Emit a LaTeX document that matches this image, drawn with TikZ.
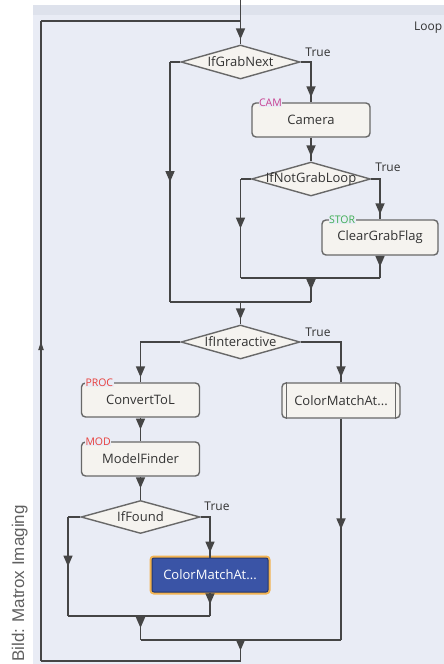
\documentclass[tikz,border=0pt]{standalone}
\usepackage{fontspec}
\setmainfont{Open Sans}
\newfontfamily\creditfont{Liberation Sans}
\usetikzlibrary{shapes.geometric,arrows.meta,decorations.markings}
\definecolor{panel}{HTML}{E9ECF5}
\definecolor{strip}{HTML}{DEE2EC}
\definecolor{linec}{HTML}{454545}
\definecolor{boxfill}{HTML}{F5F3EF}
\definecolor{boxline}{HTML}{686868}
\definecolor{blueb}{HTML}{3A54A6}
\definecolor{glow}{HTML}{F2B352}
\definecolor{tagmag}{HTML}{C8408F}
\definecolor{taggreen}{HTML}{3FAE55}
\definecolor{tagred}{HTML}{E8403C}
\definecolor{textc}{HTML}{333333}
\begin{document}
\begin{tikzpicture}[x=1pt,y=-1pt,
 conn/.style={draw=linec,line width=1.7pt},
 midarr/.style={conn,postaction={decorate},decoration={markings,mark=at position 0.5 with {\arrow[linec]{Triangle[width=9pt,length=11pt]}}}},
 endarr/.style={conn,postaction={decorate},decoration={markings,mark=at position -5pt with {\arrow[linec]{Triangle[width=9pt,length=11pt]}}}},
 uparr/.style={conn,postaction={decorate},decoration={markings,mark=at position 0.5 with {\arrow[linec]{Triangle[width=5pt,length=9pt]}}}},
 stepbox/.style={draw=boxline,fill=boxfill,line width=1.4pt,rounded corners=4pt,minimum width=118pt,minimum height=34pt,inner sep=0pt,font=\fontsize{13}{15}\selectfont,text=textc},
 decision/.style={diamond,draw=boxline,fill=boxfill,line width=1.4pt,minimum width=119pt,minimum height=34pt,inner sep=0pt,font=\fontsize{13}{15}\selectfont,text=textc},
 tagtxt/.style={fill=panel,inner sep=0.5pt,anchor=west,font=\fontsize{10.5}{12}\selectfont},
 truelbl/.style={font=\fontsize{12}{14}\selectfont,text=textc,inner sep=0pt},
]
\useasboundingbox (0,0) rectangle (444,664);
% panel
\fill[panel] (33,5) rectangle (444,664);
\fill[strip] (33,5) rectangle (444,15);

% nodes
\node[decision] (gn) at (240.5,62) {\makebox[0pt]{IfGrabNext}};
\node[stepbox] (cam) at (311,120) {Camera};
\node[decision] (ngl) at (311,179) {\makebox[0pt]{IfNotGrabLoop}};
\node[stepbox,minimum width=116pt,minimum height=35pt] (cgf) at (380,237.5) {ClearGrabFlag};
\node[decision] (ia) at (240.5,342) {\makebox[0pt]{IfInteractive}};
\node[stepbox] (ctl) at (140.5,400) {ConvertToL};
\node[stepbox,minimum height=35pt] (cma) at (341,400.5) {ColorMatchAt...};
\node[stepbox] (mf) at (140.5,459) {ModelFinder};
\node[decision,minimum height=33pt] (fd) at (140.5,517) {\makebox[0pt]{IfFound}};
\node[stepbox,minimum width=116pt,fill=blueb,draw=blueb!65!black,line width=1pt,rounded corners=2pt,text=white,preaction={draw=glow,line width=5pt}] (cmb) at (210,575) {ColorMatchAt...};

% subprocess bars
\draw[boxline,line width=1.4pt] ([xshift=5pt]cma.north west) -- ([xshift=5pt]cma.south west);
\draw[boxline,line width=1.4pt] ([xshift=-5pt]cma.north east) -- ([xshift=-5pt]cma.south east);

% tags
\node[tagtxt,text=tagmag] (tcam) at ([xshift=7pt]cam.north west) {CAM};
\node[tagtxt,text=taggreen] (tcgf) at ([xshift=7pt]cgf.north west) {STOR};
\node[tagtxt,text=tagred] (tctl) at ([xshift=4pt]ctl.north west) {PROC};
\node[tagtxt,text=tagred] (tmf) at ([xshift=4pt]mf.north west) {MOD};

% labels
\node[truelbl] (t1) at (318,52) {True};
\node[truelbl] (t2) at (388,167) {True};
\node[truelbl] (t3) at (318,332) {True};
\node[truelbl] (t4) at (217,506) {True};
\node[anchor=west,font=\fontsize{12}{14}\selectfont,text=textc,inner sep=0pt] (looplbl) at (414,28) {Loop};
\node[rotate=90,anchor=base west,font=\creditfont\fontsize{17}{20}\selectfont,text=gray!75!black,inner sep=0pt] (credit) at (24,662) {Bild: Matrox Imaging};

% coordinates
\coordinate (top) at (240.5,0);
\coordinate (lpT) at (240.5,21);
\coordinate (lpTL) at (41,21);
\coordinate (lpBL) at (41,661);
\coordinate (lpB) at (240.5,661);
\coordinate (gnL) at (170,62);
\coordinate (gnLb) at (170,302);
\coordinate (ngLc) at (240.5,179);
\coordinate (ngLb) at (240.5,278);
\coordinate (cgfB) at (380,278);
\coordinate (j1) at (311,278);
\coordinate (j1b) at (311,302);
\coordinate (j2) at (240.5,302);
\coordinate (fdL) at (68,517);
\coordinate (fdLb) at (68,616);
\coordinate (cmbB) at (210,616);
\coordinate (j3) at (140.5,616);
\coordinate (j3b) at (140.5,640);
\coordinate (cmaB) at (341,640);
\coordinate (j4) at (240.5,640);

% connectors
\draw[endarr] (top) -- (gn.north);
\draw[conn] (lpB) -- (lpBL);
\draw[uparr] (lpBL) -- (lpTL);
\draw[conn] (lpTL) -- (lpT);
\draw[endarr] (gn.east) -| (cam.north);
\draw[endarr] (cam.south) -- (ngl.north);
\draw[endarr] (ngl.east) -| (cgf.north);
\draw[conn] (ngl.west) -- (ngLc);
\draw[midarr] (ngLc) -- (ngLb);
\draw[midarr] (cgf.south) -- (cgfB);
\draw[conn] (ngLb) -- (cgfB);
\draw[midarr] (j1) -- (j1b);
\draw[conn] (gn.west) -- (gnL);
\draw[midarr] (gnL) -- (gnLb);
\draw[conn] (gnLb) -- (j1b);
\draw[endarr] (j2) -- (ia.north);
\draw[endarr] (ia.west) -| (ctl.north);
\draw[endarr] (ia.east) -| (cma.north);
\draw[midarr] (ctl.south) -- (mf.north);
\draw[midarr] (mf.south) -- (fd.north);
\draw[endarr] (fd.east) -| (cmb.north);
\draw[conn] (fd.west) -- (fdL);
\draw[midarr] (fdL) -- (fdLb);
\draw[midarr] (cmb.south) -- (cmbB);
\draw[conn] (fdLb) -- (cmbB);
\draw[midarr] (j3) -- (j3b);
\draw[midarr] (cma.south) -- (cmaB);
\draw[conn] (j3b) -- (cmaB);
\draw[midarr] (j4) -- (lpB);
\end{tikzpicture}
\end{document}
